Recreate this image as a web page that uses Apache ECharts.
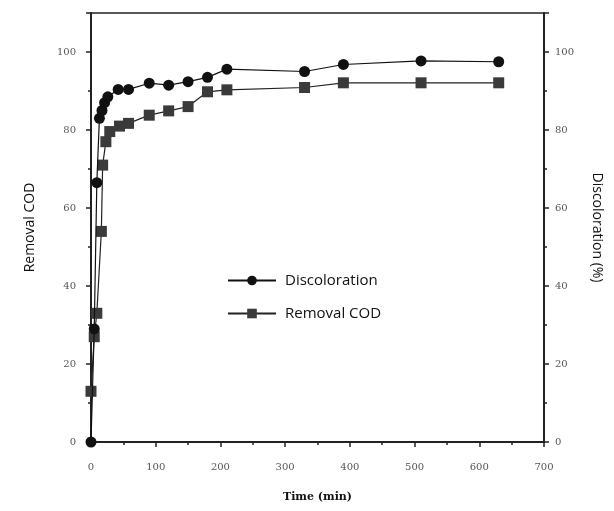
<!DOCTYPE html>
<html>
<head>
<meta charset="utf-8">
<script src="https://cdn.jsdelivr.net/npm/echarts@6/dist/echarts.min.js"></script>
<style>
  html, body { margin: 0; padding: 0; background: #fff; }
  #chart { width: 614px; height: 511px; }
</style>
</head>
<body>
<div id="chart"></div>
<script>
// time in minutes
const discTime = [0, 5, 9, 13, 17, 21, 26, 42, 58, 90, 120, 150, 180, 210, 330, 390, 510, 630]
const discoloration = [0, 29, 66.5, 83, 85, 87, 88.5, 90.4, 90.4, 92, 91.5, 92.4, 93.5, 95.6, 95, 96.8, 97.7, 97.5]
const codTime = [0, 5, 9, 16, 18, 23, 29, 44, 58, 90, 120, 150, 180, 210, 330, 390, 510, 630]
const removalCOD = [13, 27, 33, 54, 71, 77, 79.6, 81, 81.7, 83.8, 84.9, 86, 89.8, 90.3, 90.9, 92.1, 92.1, 92.1]

const chart = echarts.init(document.getElementById('chart'))

const tickLabel = { fontFamily: 'DejaVu Serif', fontSize: 10, color: '#555' }

function yAxis (pos, name) {
  return {
    type: 'value',
    position: pos,
    min: 0,
    max: 110,
    interval: 20,
    name: name,
    nameLocation: 'middle',
    nameGap: pos === 'left' ? 54 : 46,
    nameRotate: pos === 'left' ? 90 : -90,
    nameTextStyle: { fontFamily: 'Open Sans', fontSize: 14, color: '#111' },
    axisLine: { show: true, lineStyle: { color: '#222', width: 2 } },
    axisTick: { show: true, inside: false, length: 5, lineStyle: { color: '#222', width: 1.5 } },
    minorTick: { show: true, splitNumber: 2, length: 3, lineStyle: { color: '#222', width: 1.5 } },
    axisLabel: Object.assign({ margin: pos === 'left' ? 15 : 11, showMaxLabel: false }, tickLabel),
    splitLine: { show: false }
  }
}

chart.setOption({
  animation: false,
  backgroundColor: '#fff',
  grid: {
    left: 91, right: 70, top: 13, bottom: 69,
    show: true, borderColor: '#222', borderWidth: 1.5
  },
  legend: {
    orient: 'vertical',
    left: 222,
    top: 268,
    itemGap: 18,
    itemWidth: 48,
    itemHeight: 12,
    textStyle: { fontFamily: 'Open Sans', fontSize: 15, fontWeight: 500, color: '#111', padding: [0, 0, 0, 4] },
    data: ['Discoloration', 'Removal COD']
  },
  xAxis: {
    type: 'value',
    min: 0,
    max: 700,
    interval: 100,
    name: 'Time (min)',
    nameLocation: 'middle',
    nameGap: 50,
    nameTextStyle: { fontFamily: 'DejaVu Serif', fontSize: 11, fontWeight: 'bold', color: '#111' },
    axisLine: { show: true, lineStyle: { color: '#222', width: 2 } },
    axisTick: { show: true, inside: false, length: 5, lineStyle: { color: '#222', width: 1.5 } },
    minorTick: { show: true, splitNumber: 2, length: 3, lineStyle: { color: '#222', width: 1.5 } },
    axisLabel: Object.assign({ margin: 20 }, tickLabel),
    splitLine: { show: false }
  },
  yAxis: [yAxis('left', 'Removal COD'), yAxis('right', 'Discoloration (%)')],
  series: [
    {
      name: 'Discoloration',
      type: 'line',
      yAxisIndex: 1,
      data: discTime.map((t, i) => [t, discoloration[i]]),
      symbol: 'circle',
      symbolSize: 11,
      itemStyle: { color: '#111' },
      lineStyle: { color: '#111', width: 1.2 },
      z: 3
    },
    {
      name: 'Removal COD',
      type: 'line',
      yAxisIndex: 0,
      data: codTime.map((t, i) => [t, removalCOD[i]]),
      symbol: 'rect',
      symbolSize: 11,
      itemStyle: { color: '#3a3a3a' },
      lineStyle: { color: '#222', width: 1.2 },
      z: 2
    }
  ]
})
</script>
</body>
</html>
